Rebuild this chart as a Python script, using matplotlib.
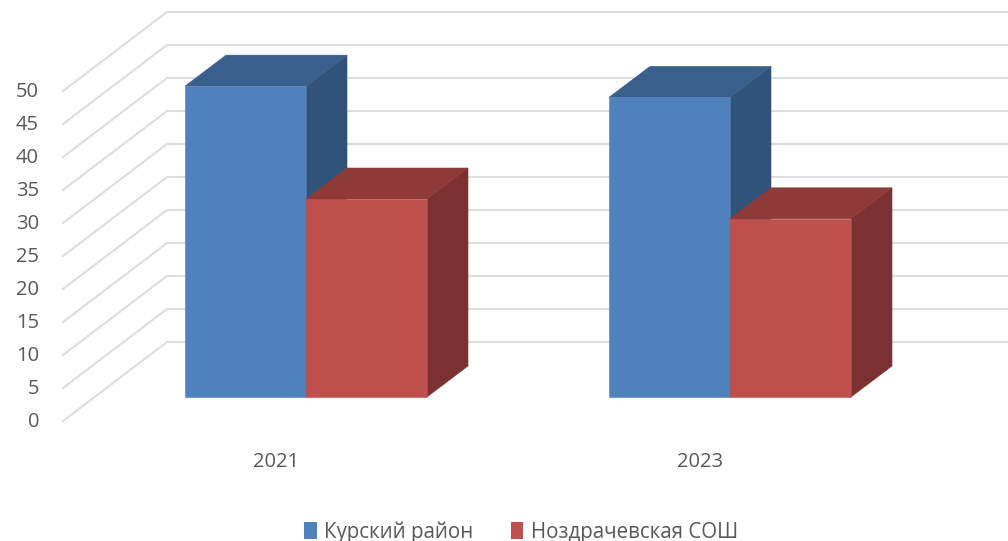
import matplotlib
matplotlib.use("Agg")
import matplotlib.pyplot as plt
from matplotlib.patches import Polygon, Patch

plt.rcParams['font.family'] = ['Open Sans', 'DejaVu Sans']

categories = ['2021', '2023']
series_names = ['Курский район', 'Ноздрачевская СОШ']
kursk = [47.1, 45.4]
nozd = [30.0, 27.0]
y_ticks = [0, 5, 10, 15, 20, 25, 30, 35, 40, 45, 50]

W, H = 1008, 541
PX_PER_UNIT = 6.6      # vertical pixels per value unit
PX_PER_CAT = 424.0     # horizontal pixels per category
X0, Y0 = 306.0, 397.0  # pixel of category 0, value 0 on the bar front plane
BAR_W = 121.0 / PX_PER_CAT

fig = plt.figure(figsize=(W / 100, H / 100), dpi=100)
ax = fig.add_axes([0, 0, 1, 1])
ax.set_xlim(-X0 / PX_PER_CAT, (W - X0) / PX_PER_CAT)
ax.set_ylim(-(H - Y0) / PX_PER_UNIT, Y0 / PX_PER_UNIT)
ax.axis('off')

dx = lambda px: px / PX_PER_CAT
dy = lambda px: px / PX_PER_UNIT

# floor / wall gridlines
x_front = dx(63 - X0)
x_back = dx(167 - X0)
x_end = dx(W - X0)
for v in y_ticks:
    yf = v + dy(-24)
    yb = v + dy(55)
    ax.plot([x_front, x_back, x_end], [yf, yb, yb], color='#DEDEDE', lw=1.5,
            solid_joinstyle='miter', zorder=1)
    ax.text(dx(39 - X0), v + dy(-25), str(v), color='#595959', fontsize=14.5,
            ha='right', va='center', zorder=5)

DX, DY = dx(41), dy(31)


def bar3d(x0, value, front, top, side, z):
    x1 = x0 + BAR_W
    ax.add_patch(Polygon([(x1, 0), (x1 + DX, DY), (x1 + DX, value + DY), (x1, value)],
                         closed=True, fc=side, ec=side, lw=0.4, zorder=z))
    ax.add_patch(Polygon([(x0, value), (x1, value), (x1 + DX, value + DY), (x0 + DX, value + DY)],
                         closed=True, fc=top, ec=top, lw=0.4, zorder=z))
    ax.add_patch(Polygon([(x0, 0), (x1, 0), (x1, value), (x0, value)],
                         closed=True, fc=front, ec=front, lw=0.4, zorder=z + 0.1))


BLUE = ('#4F81BD', '#3B5F8C', '#325379')
RED = ('#C0504D', '#8E3A38', '#7A3130')
for i, cat in enumerate(categories):
    bar3d(i - BAR_W, kursk[i], *BLUE, 2 + i)
    bar3d(i, nozd[i], *RED, 2.5 + i)
    ax.text(i + dx(-30), dy(-65), cat, color='#595959', fontsize=14.5,
            ha='center', va='center', zorder=5)

handles = [Patch(fc=BLUE[0], ec='none', label=series_names[0]),
           Patch(fc=RED[0], ec='none', label=series_names[1])]
ax.legend(handles=handles, loc='lower center', bbox_to_anchor=(521 / W, -0.034), ncol=2,
          frameon=False, fontsize=14.8, labelcolor='#595959', handlelength=0.62,
          handleheight=0.9, handletextpad=0.35, columnspacing=1.8, borderpad=0.3)

fig.savefig('out.png', dpi=100)
